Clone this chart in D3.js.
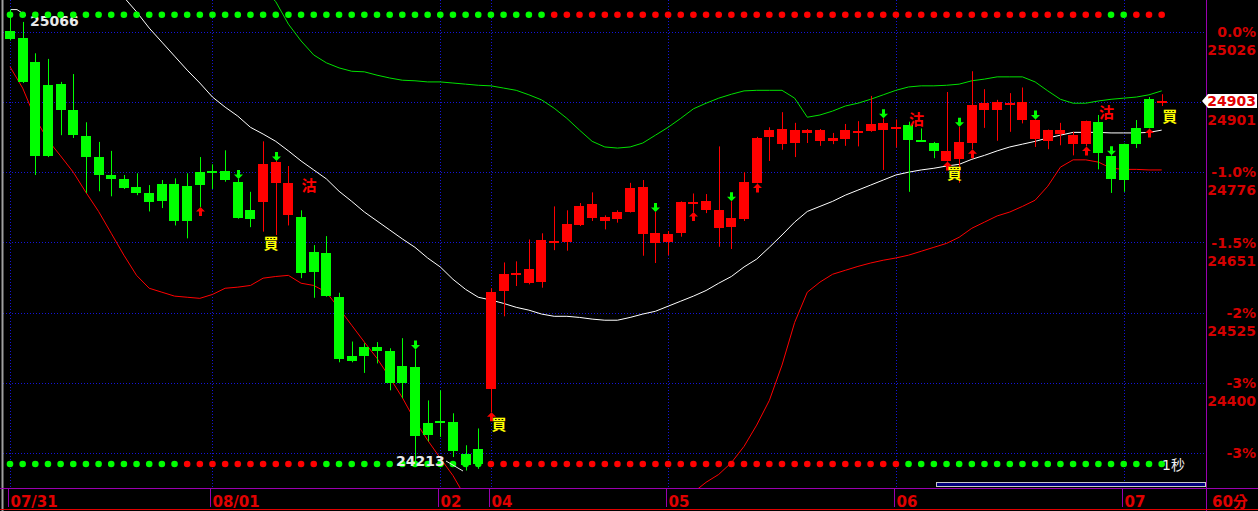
<!DOCTYPE html>
<html>
<head>
<meta charset="utf-8">
<script src="https://cdn.jsdelivr.net/npm/d3@7"></script>
<style>
html,body{margin:0;padding:0;background:#000;overflow:hidden}
svg{display:block}
</style>
</head>
<body>
<svg id="chart" width="1258" height="511"></svg>
<script>
// 60分 K線 (92 bars)
var opens=[25028,25016,24973,24931,24933,24887,24840,24803,24771,24764,24749,24739,24755,24755,24751,24777,24779,24778,24759,24708,
24723,24757,24699,24696,24633,24632,24553,24449,24465,24465,24457,24430,24429,24329,24332,24331,24273,24282,24389,24564,
24596,24578,24580,24651,24652,24681,24694,24689,24692,24705,24666,24650,24652,24668,24721,24708,24677,24678,24692,24757,
24839,24827,24828,24846,24832,24832,24836,24849,24850,24851,24856,24860,24834,24828,24796,24799,24828,24887,24887,24899,
24869,24835,24831,24844,24826,24826,24865,24805,24826,24855,24906,24902];
var highs=[25066,25044,24988,24978,24937,24951,24865,24830,24814,24771,24774,24753,24762,24765,24774,24803,24790,24815,24764,24741,
24831,24796,24787,24708,24646,24662,24561,24474,24471,24473,24462,24480,24460,24369,24387,24346,24289,24319,24569,24615,
24617,24656,24667,24715,24708,24721,24740,24699,24708,24757,24762,24705,24671,24724,24738,24737,24822,24724,24776,24839,
24856,24883,24864,24853,24853,24846,24862,24867,24912,24872,24870,24866,24854,24830,24919,24857,24956,24924,24905,24917,
24927,24870,24852,24864,24848,24868,24878,24806,24827,24869,24910,24915];
var lows=[25011,24935,24771,24803,24842,24837,24739,24742,24733,24746,24735,24706,24712,24681,24658,24714,24746,24759,24693,24678,
24670,24664,24681,24587,24552,24554,24437,24437,24418,24435,24387,24373,24257,24296,24304,24268,24244,24247,24348,24519,
24573,24576,24570,24637,24636,24680,24689,24674,24686,24704,24627,24614,24628,24661,24705,24703,24643,24639,24689,24756,
24796,24816,24803,24828,24823,24826,24823,24822,24848,24780,24820,24741,24830,24801,24795,24757,24817,24855,24832,24848,
24863,24821,24817,24824,24806,24822,24781,24739,24741,24819,24854,24894];
var closes=[25013,24936,24805,24805,24887,24842,24803,24771,24764,24748,24739,24723,24724,24689,24689,24753,24778,24762,24694,24692,
24791,24794,24757,24596,24598,24555,24442,24440,24449,24457,24400,24400,24305,24308,24331,24279,24254,24256,24562,24594,
24597,24603,24655,24653,24683,24715,24719,24696,24705,24748,24749,24667,24665,24723,24723,24724,24708,24694,24758,24837,
24851,24853,24851,24851,24851,24837,24851,24850,24862,24864,24857,24833,24832,24814,24814,24830,24896,24900,24902,24900,
24901,24869,24851,24852,24842,24867,24811,24764,24762,24826,24855,24903];

// 布林通道: 中線 / 上軌 / 下軌 (null = not drawn)
var midBand=[null,null,null,null,null,null,null,null,null,25088,25062,25033,25008,24983,24958,24935,24910,24892,24876,24856,
24844,24831,24814,24796,24780,24764,24742,24724,24705,24689,24673,24657,24642,24623,24607,24585,24567,24553,24548,24542,
24535,24530,24523,24519,24519,24517,24514,24512,24512,24517,24523,24528,24537,24546,24555,24565,24578,24590,24607,24621,
24642,24664,24687,24706,24715,24724,24735,24744,24753,24762,24771,24776,24780,24783,24787,24790,24799,24806,24814,24821,
24826,24831,24837,24842,24847,24847,24847,24846,24846,24846,24847,24851];
var upperBand=[null,null,null,null,null,null,null,null,null,null,null,null,null,null,null,null,null,null,null,null,
25105,25080,25040,25010,24985,24971,24962,24956,24955,24949,24944,24940,24939,24937,24937,24935,24933,24931,24930,24926,
24922,24914,24905,24890,24872,24851,24831,24821,24819,24821,24828,24842,24856,24872,24889,24899,24908,24915,24921,24922,
24922,24922,24908,24874,24878,24885,24894,24899,24906,24914,24922,24928,24930,24930,24931,24933,24939,24942,24946,24946,
24946,24937,24921,24906,24899,24899,24903,24906,24908,24910,24914,24921];
var lowerBand=[24964,24926,24872,24833,24805,24776,24740,24706,24667,24628,24592,24569,24562,24555,24553,24551,24558,24569,24571,24574,
24587,24590,24592,24578,24574,24562,24533,24503,24473,24444,24410,24374,24333,24298,24266,24235,24196,24160,24120,24090,
24070,24055,24045,24040,24040,24045,24055,24070,24085,24105,24125,24145,24165,24185,24205,24223,24237,24258,24287,24325,
24369,24432,24508,24562,24580,24594,24601,24608,24614,24619,24623,24628,24635,24642,24649,24660,24676,24687,24698,24705,
24715,24726,24751,24785,24798,24798,24794,24783,24781,24781,24780,24780];

// 訊號列 (G = 綠, R = 紅)
var topSignal="GGGGGGGGGGGGGGGGGGGGGGGGGGGGGGGGGGGGGGGGGGG"+"RRRRRRRRRRRRRRRRRRRRRRRRRRRRRRRRRRRRRRRRRRRR"+"GG"+"RRR";
var bottomSignal="GGGGGGGGGGGGGG"+"RRRRRRRRRRR"+"GGGGGGGGGGGGG"+"RRRRRRRRRRRRRRRRRRRRRRRRRRRRRRRRR"+"GGGGGGGGGGGGGGGGGGGGG";

var downArrowIdx=[18,21,32,51,57,69,75,81,87];
var upArrowIdx=[15,38,54,59,74,76,85,90];
var buyIdx=[20,38,74,91], buyPrice=[24649,24325,24773,24875];
var sellIdx=[23,71,86], sellPrice=[24752,24869,24882];

var dateIdx=[0,16,34,38,52,70,88];
var dateLabels=["07/31","08/01","02","04","05","06","07"];

var basePrice=25026;
var pctSteps=[0,0.005,0.01,0.015,0.02,0.025,0.03];
var pctLabels=["0.0%","","-1.0%","-1.5%","-2%","-3%","-3%"];
var priceLabels=["25026","24901","24776","24651","24525","24400",""];
var lastPrice="24903", hiLabel="25066", loLabel="24213";

var W=1258,H=511, plotRight=1206, plotBottom=488;
var svg=d3.select("#chart");
svg.append("rect").attr("width",W).attr("height",H).attr("fill","#000");

var x=d3.scaleBand().domain(d3.range(opens.length)).range([3.672,1168.0]).paddingInner(0.2).paddingOuter(0.1);
var y=d3.scaleLinear().domain([basePrice*(1-0.03),basePrice]).range([453,32]);
function cx(i){return x(i)+x.bandwidth()/2;}

svg.append("clipPath").attr("id","plot").append("rect").attr("x",3).attr("y",0).attr("width",plotRight-3).attr("height",plotBottom);
var g=svg.append("g").attr("clip-path","url(#plot)");

// grid
var gridCol="#1414d8";
pctSteps.forEach(function(p){
  var gy=Math.round(y(basePrice*(1-p)))+0.5;
  g.append("line").attr("x1",3).attr("x2",plotRight).attr("y1",gy).attr("y2",gy)
    .attr("stroke",gridCol).attr("stroke-dasharray","1,2");
});
dateIdx.forEach(function(i){
  var gx=Math.round(cx(i))+0.5;
  g.append("line").attr("x1",gx).attr("x2",gx).attr("y1",0).attr("y2",plotBottom)
    .attr("stroke",gridCol).attr("stroke-dasharray","1,2");
});

// bands
function bandLine(arr,col){
  var ln=d3.line().defined(function(d){return d!=null;}).x(function(d,i){return cx(i);}).y(function(d){return y(d);});
  g.append("path").datum(arr).attr("d",ln).attr("fill","none").attr("stroke",col).attr("stroke-width",1);
}
bandLine(upperBand,"#00e000");
bandLine(lowerBand,"#ff0000");
bandLine(midBand,"#ffffff");

// hi / lo labels
g.append("path").attr("d","M"+(cx(0)+1)+","+y(25066)+" L"+(cx(0)+7)+","+y(25066)+" L"+(cx(0)+16)+","+(y(25066)+6))
  .attr("stroke","#e8e8e8").attr("fill","none");
g.append("text").attr("x",30).attr("y",26).text(hiLabel)
  .attr("fill","#e8e8e8").style("font","bold 14px 'DejaVu Sans'");

// candles
var bars=g.append("g");
opens.forEach(function(o,i){
  var c=closes[i], up=c>=o, col=up?"#ff0000":"#00ff00";
  var xc=Math.round(cx(i))+0.5;
  bars.append("line").attr("x1",xc).attr("x2",xc).attr("y1",y(highs[i])).attr("y2",y(lows[i])).attr("stroke",col);
  var top=y(Math.max(o,c)), bot=y(Math.min(o,c)), h=Math.max(2,bot-top);
  bars.append("rect").attr("x",Math.round(x(i))).attr("y",top).attr("width",Math.round(x.bandwidth()))
    .attr("height",h).attr("fill",col).attr("shape-rendering","crispEdges");
});

// signal arrows
downArrowIdx.forEach(function(i){
  var c=Math.round(cx(i))+0.5, t=y(highs[i]);
  g.append("path").attr("fill","#00ff00")
   .attr("d","M"+(c-1.5)+","+(t-9)+"h3v4.5h3L"+c+","+t+"L"+(c-4.5)+","+(t-4.5)+"h3Z");
});
upArrowIdx.forEach(function(i){
  var c=Math.round(cx(i))+0.5, t=y(lows[i]);
  g.append("path").attr("fill","#ff0000")
   .attr("d","M"+(c-1.5)+","+(t+9)+"h3v-4.5h3L"+c+","+t+"L"+(c-4.5)+","+(t+4.5)+"h3Z");
});
buyIdx.forEach(function(i,k){
  g.append("text").attr("x",cx(i)+8).attr("y",y(buyPrice[k])).attr("dy","0.36em").attr("text-anchor","middle")
   .text("買").attr("fill","#ffff00").style("font","bold 15px 'Noto Sans CJK TC'");
});
sellIdx.forEach(function(i,k){
  g.append("text").attr("x",cx(i)+8).attr("y",y(sellPrice[k])).attr("dy","0.36em").attr("text-anchor","middle")
   .text("沽").attr("fill","#ff0000").style("font","bold 15px 'Noto Sans CJK TC'");
});

// signal dots
function dots(str,yy){
  g.append("g").selectAll("circle").data(str.split("")).enter().append("circle")
   .attr("cx",function(d,i){return cx(i);}).attr("cy",yy).attr("r",3.3)
   .attr("fill",function(d){return d=="G"?"#00ff00":"#ff0000";});
}
dots(topSignal,14.7);
dots(bottomSignal,464);

g.append("path").attr("d","M446,461 L463,471").attr("stroke","#e8e8e8");
g.append("text").attr("x",396).attr("y",466).text(loLabel)
  .attr("fill","#e8e8e8").style("font","bold 14px 'DejaVu Sans'");
g.append("text").attr("x",1162).attr("y",470).text("1秒")
  .attr("fill","#f0f0f0").style("font","14px 'DejaVu Sans','Noto Sans CJK TC'");

// frame
var purple="#9a00b0";
svg.append("line").attr("x1",2.5).attr("x2",2.5).attr("y1",0).attr("y2",H).attr("stroke","#a0a0a0").attr("stroke-width",2);
svg.append("line").attr("x1",0).attr("x2",W).attr("y1",plotBottom+0.5).attr("y2",plotBottom+0.5).attr("stroke",purple);
svg.append("line").attr("x1",plotRight+0.5).attr("x2",plotRight+0.5).attr("y1",0).attr("y2",H).attr("stroke",purple);
svg.append("line").attr("x1",0).attr("x2",W).attr("y1",509.5).attr("y2",509.5).attr("stroke","#e00000");
svg.append("rect").attr("x",936.5).attr("y",482.5).attr("width",269).attr("height",4)
  .attr("fill","#00007a").attr("stroke","#c8c8c8");

// bottom axis
dateIdx.forEach(function(i,k){
  var gx=Math.round(cx(i))-1.5;
  svg.append("line").attr("x1",gx).attr("x2",gx).attr("y1",plotBottom).attr("y2",507).attr("stroke",purple);
  svg.append("text").attr("x",gx+2).attr("y",507).text(dateLabels[k])
    .attr("fill","#e00000").style("font","bold 15px 'DejaVu Sans'");
});
svg.append("text").attr("x",1212).attr("y",507).text("60分")
  .attr("fill","#e00000").style("font","bold 15px 'DejaVu Sans','Noto Sans CJK TC'");

// right axis
pctSteps.forEach(function(p,k){
  var gy=y(basePrice*(1-p));
  svg.append("text").attr("x",1256).attr("y",gy+5).attr("text-anchor","end").text(pctLabels[k])
    .attr("fill","#d40000").style("font","bold 14px 'DejaVu Sans'");
  svg.append("text").attr("x",1256).attr("y",gy+23).attr("text-anchor","end").text(priceLabels[k])
    .attr("fill","#d40000").style("font","bold 14px 'DejaVu Sans'");
});
var ly=y(+lastPrice);
svg.append("path").attr("d","M1202,"+ly+" L1208,"+(ly-7)+" H1257 V"+(ly+7)+" H1208 Z").attr("fill","#ffffff");
svg.append("text").attr("x",1256).attr("y",ly+5.5).attr("text-anchor","end").text(lastPrice)
  .attr("fill","#e00000").style("font","bold 14px 'DejaVu Sans'");
</script>
</body>
</html>
